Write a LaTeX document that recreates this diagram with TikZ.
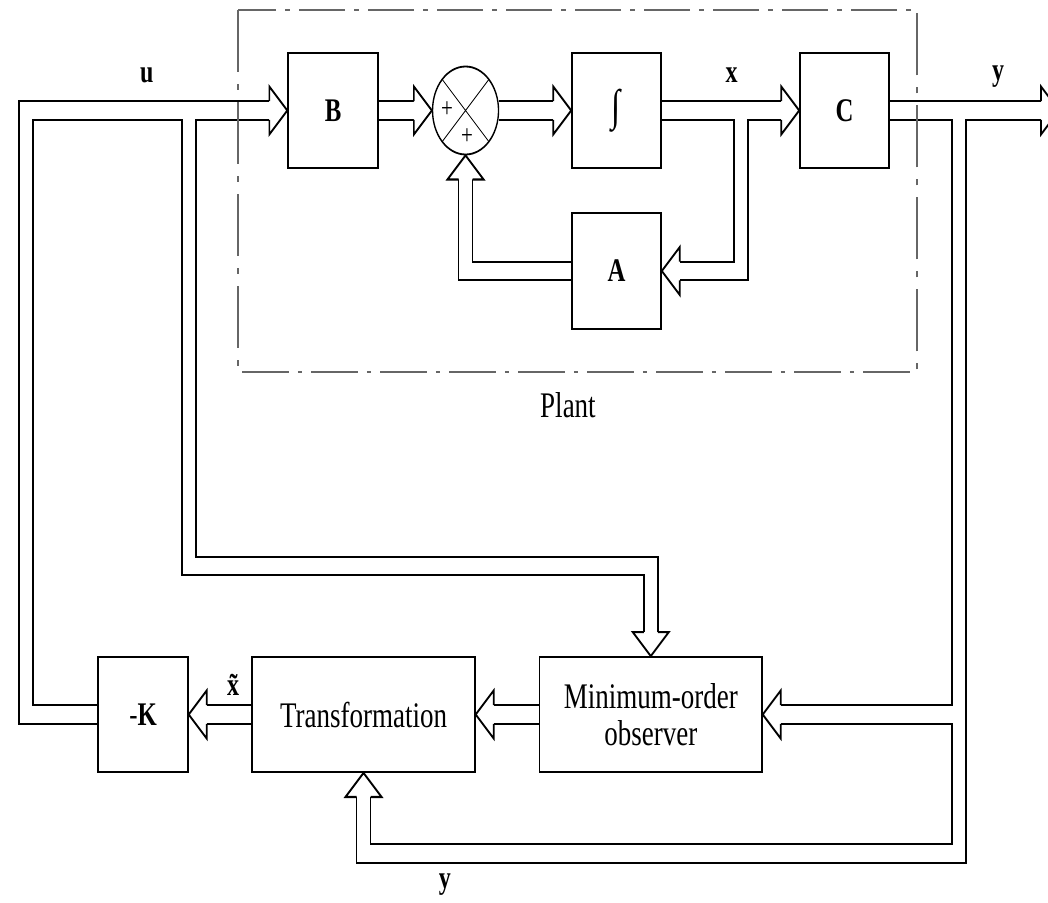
\documentclass[tikz,border=0pt]{standalone}
\usepackage{fontspec}
\setmainfont{Liberation Serif}
\usetikzlibrary{calc, backgrounds}

\begin{document}
\begin{tikzpicture}[
      x=1pt, y=-1pt,
      squeeze/.style={transform canvas={xscale=0.75}},
      blk/.style={rectangle, draw, line width=1.8pt, inner sep=0pt,
                  minimum width=#1, minimum height=115pt},
      blk/.default=119pt,
      bsym/.style={font=\fontsize{33}{33}\selectfont\bfseries},
      txt/.style={font=\fontsize{36}{37}\selectfont, align=center},
      sig/.style={font=\fontsize{32}{32}\selectfont\bfseries, inner sep=0pt},
      plus/.style={font=\fontsize{28}{28}\selectfont, inner sep=0pt},
      wall/.style={line width=2.2pt, line join=miter},
      plantbox/.style={draw=black!60, line width=1.6pt,
                       dash pattern=on 62pt off 12pt on 6pt off 12pt},
      hd/.pic={
        \fill[white] (-24,-24) -- (0,0) -- (-24,24) -- cycle;
        \draw[wall] (-24,9.3) -- (-24,24) -- (0,0) -- (-24,-24) -- (-24,-9.3);
      }
    ]
    \useasboundingbox (0,0) rectangle (1048,902);

    \begin{scope}[squeeze]
      % Plant frame
      \draw[plantbox] (317.3,10) rectangle (1222.7,372);
      \node[txt] (plant) at (757.3,405) {Plant};

      % Row 1: plant blocks
      \node[blk=120pt, bsym] (B) at (444,110.5) {B};
      \node[circle, draw, line width=1.8pt, minimum size=88pt, inner sep=0pt,
            path picture={
              \draw[line width=1pt]
                (path picture bounding box.north west) -- (path picture bounding box.south east)
                (path picture bounding box.north east) -- (path picture bounding box.south west);
            }] (sum) at (620.7,110.5) {};
      \node[plus] (pl1) at (596,110) {+};
      \node[plus] (pl2) at (622.7,137) {+};
      \node[blk, font=\fontsize{44}{44}\selectfont\bfseries] (int) at (822,110.5) {∫};
      \node[blk, bsym] (C) at (1126,110.5) {C};
      \node[blk, bsym, minimum height=116pt] (A) at (822,271) {A};

      % Row 2: observer loop
      \node[blk=120pt, font=\fontsize{33}{33}\selectfont] (K) at (190.7,714.5) {-\textbf{K}};
      \node[blk=297.3pt, txt] (Trans) at (484.7,714.5) {Transformation};
      \node[blk=296.7pt, txt] (Obs) at (867.7,714.5) {Minimum-order\\observer};

      % signal names
      \node[sig] (lu) at (195.6,75) {u};
      \node[sig] (lx) at (975.6,75) {x};
      \node[sig] (ly) at (1330.7,76.7) {y};
      \node[sig] (lxt) at (310.7,685) {x̃};
      \node[sig] (lyb) at (593.3,885) {y};

      % branch points and levels
      \coordinate (uc) at (35,110.5);
      \coordinate (ubr) at (252,110.5);
      \coordinate (xbr) at (987.8,110.5);
      \coordinate (ybr) at (1278.3,110.5);
      \coordinate (yout) at (1412,110.5);
      \coordinate (ulev) at (0,566);
      \coordinate (blev) at (0,853.5);
    \end{scope}

    % hollow pipes: black pass, then white pass
    \begin{scope}[on background layer]
    \begin{scope}[squeeze]
      \foreach \pw/\pc in {20.8pt/black, 16.4pt/white} {
        \begin{scope}[line width=\pw, color=\pc, line join=miter, shorten >=24pt]
          \draw (K.west) -| (uc) -- (B.west);
          \draw (ubr) |- (Obs.north |- ulev) -- (Obs.north);
          \draw (B.east) -- (sum.west);
          \draw (sum.east) -- (int.west);
          \draw (int.east) -- (C.west);
          \draw (xbr) |- (A.east);
          \draw (A.west) -| (sum.south);
          \draw (C.east) -- (yout);
          \draw (ybr) |- (Obs.east);
          \draw (ybr) |- (Trans.south |- blev) -- (Trans.south);
          \draw (Obs.west) -- (Trans.east);
          \draw (Trans.west) -- (K.east);
        \end{scope}
      }
      % arrow heads
      \pic at (B.west) {hd};
      \pic at (sum.west) {hd};
      \pic at (int.west) {hd};
      \pic at (C.west) {hd};
      \pic at (yout) {hd};
      \pic[rotate=180] at (A.east) {hd};
      \pic[rotate=90] at (sum.south) {hd};
      \pic[rotate=-90] at (Obs.north) {hd};
      \pic[rotate=180] at (Obs.east) {hd};
      \pic[rotate=90] at (Trans.south) {hd};
      \pic[rotate=180] at (Trans.east) {hd};
      \pic[rotate=180] at (K.east) {hd};
    \end{scope}
    \end{scope}
  \end{tikzpicture}
\end{document}
